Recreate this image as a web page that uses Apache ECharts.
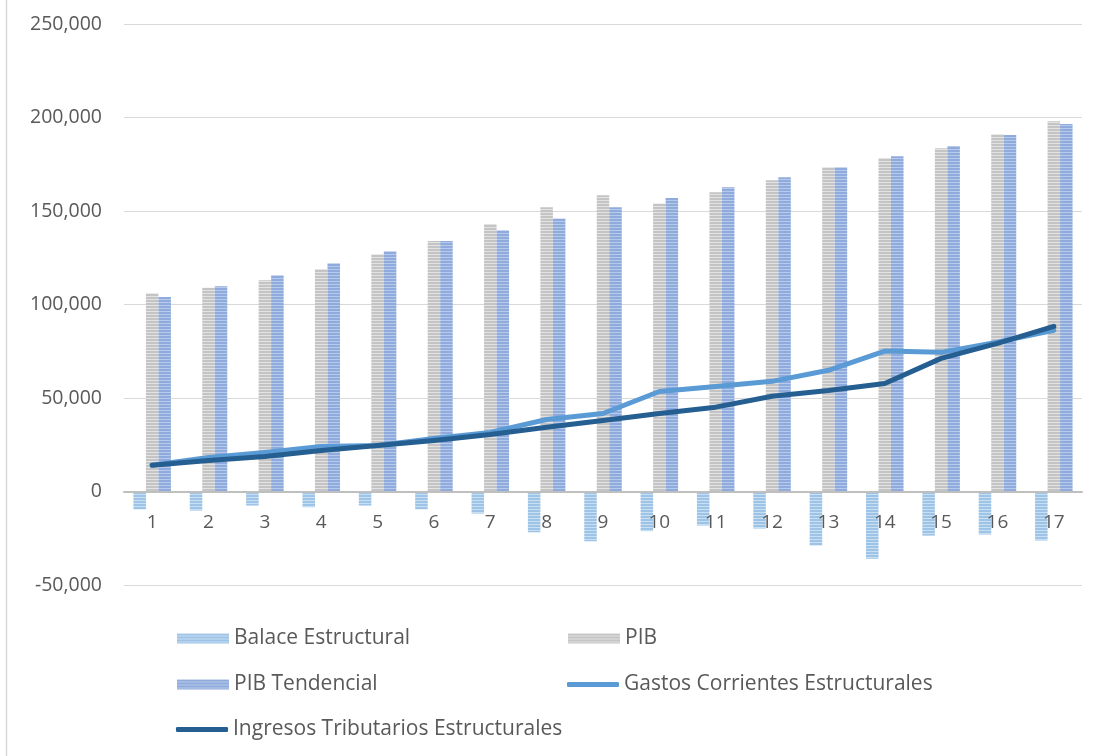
<!DOCTYPE html>
<html>
<head>
<meta charset="utf-8">
<script src="https://cdn.jsdelivr.net/npm/echarts@6/dist/echarts.min.js"></script>
<style>html,body{margin:0;padding:0;background:#fff}#c{width:1095px;height:756px}</style>
</head>
<body>
<div id="c"></div>
<script>
const categories = ['1','2','3','4','5','6','7','8','9','10','11','12','13','14','15','16','17'];
const balance = [-9600,-10200,-7500,-8400,-7500,-9600,-11800,-21800,-26600,-21200,-18200,-19800,-28900,-35900,-23600,-23000,-26200];
const pib = [106000,109000,113000,119000,126900,134000,143000,152000,158400,154000,160000,166500,173400,178300,183600,191000,198000];
const pibTend = [104000,109700,115600,122000,128500,134000,139700,146000,152000,157000,162700,168000,173400,179300,184700,190600,196500];
const gastos = [14000,18200,20900,24100,24600,28400,31600,38500,41700,53500,56200,58900,64800,75100,74400,79900,86200];
const ingresos = [14000,16600,18700,21900,24600,27300,30500,34400,38000,41700,45100,50900,54000,57800,71200,79200,88300];
const yTicks = [-50000, 0, 50000, 100000, 150000, 200000, 250000];

function stripes(c1, c2) {
  const cv = document.createElement('canvas');
  cv.width = 4; cv.height = 3;
  const ctx = cv.getContext('2d');
  ctx.fillStyle = c1; ctx.fillRect(0, 0, 4, 2);
  ctx.fillStyle = c2; ctx.fillRect(0, 2, 4, 1);
  return { image: cv, repeat: 'repeat' };
}
const balColor = stripes('#9DC3E6', '#C9DFF2');
const pibColor = stripes('#C4C4C4', '#E3E3E3');
const tendColor = stripes('#8FAADC', '#B8CAEA');

const FONT = 'Open Sans';
const TXT = '#595959';
const chart = echarts.init(document.getElementById('c'));
const legendBase = { orient: 'horizontal', itemWidth: 52, itemHeight: 10, itemGap: 5,
  textStyle: { fontFamily: FONT, fontSize: 21, color: TXT, padding: [0,0,0,0] }, selectedMode: false, padding: 0 };
chart.setOption({
  animation: false,
  backgroundColor: '#fff',
  grid: { left: 124, right: 13, top: 24, bottom: 171, containLabel: false },
  xAxis: {
    type: 'category', data: categories,
    offset: -93.5, z: 5,
    axisLine: { onZero: false, lineStyle: { color: '#BFBFBF', width: 2 } },
    axisTick: { show: false },
    axisLabel: { fontFamily: FONT, fontSize: 19, color: TXT, margin: 22 }
  },
  yAxis: {
    type: 'value', min: yTicks[0], max: yTicks[yTicks.length - 1], interval: 50000,
    axisLine: { show: false }, axisTick: { show: false },
    splitLine: { lineStyle: { color: '#D9D9D9', width: 1 } },
    axisLabel: { fontFamily: FONT, fontSize: 19.5, color: TXT, margin: 22,
      formatter: v => v.toLocaleString('en-US') }
  },
  legend: [
    Object.assign({}, legendBase, { left: 177, top: 628, data: [{ name: 'Balace Estructural', icon: 'rect' }] }),
    Object.assign({}, legendBase, { left: 568, top: 628, data: [{ name: 'PIB', icon: 'rect' }] }),
    Object.assign({}, legendBase, { left: 177, top: 674, data: [{ name: 'PIB Tendencial', icon: 'rect' }] }),
    Object.assign({}, legendBase, { left: 567, top: 674, itemHeight: 5, data: [{ name: 'Gastos Corrientes Estructurales', icon: 'roundRect' }] }),
    Object.assign({}, legendBase, { left: 176, top: 719, itemHeight: 5, data: [{ name: 'Ingresos Tributarios Estructurales', icon: 'roundRect' }] })
  ],
  graphic: [{ type: 'line', shape: { x1: 6.5, y1: 0, x2: 6.5, y2: 756 }, style: { stroke: '#D9D9D9', lineWidth: 1.5 }, silent: true }],
  series: [
    { name: 'Balace Estructural', type: 'bar', data: balance, barWidth: 12.5, barGap: '0%', itemStyle: { color: balColor } },
    { name: 'PIB', type: 'bar', data: pib, barWidth: 12.5, barGap: '0%', itemStyle: { color: pibColor } },
    { name: 'PIB Tendencial', type: 'bar', data: pibTend, barWidth: 12.5, barGap: '0%', itemStyle: { color: tendColor } },
    { name: 'Gastos Corrientes Estructurales', type: 'line', data: gastos, showSymbol: false, symbol: 'none',
      lineStyle: { color: '#5B9BD5', width: 5, cap: 'round', join: 'round' }, itemStyle: { color: '#5B9BD5' } },
    { name: 'Ingresos Tributarios Estructurales', type: 'line', data: ingresos, showSymbol: false, symbol: 'none',
      lineStyle: { color: '#255E91', width: 5, cap: 'round', join: 'round' }, itemStyle: { color: '#255E91' } }
  ]
});
</script>
</body>
</html>
